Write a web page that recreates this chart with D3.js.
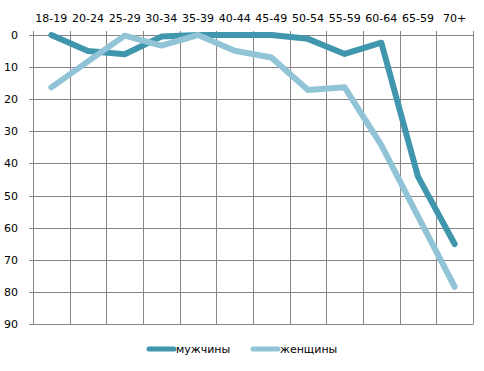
<!DOCTYPE html>
<html>
<head>
<meta charset="utf-8">
<script src="https://cdn.jsdelivr.net/npm/d3@7"></script>
<style>
    body { margin: 0; background: #fff; }
    text { font-family: "DejaVu Sans", Verdana, sans-serif; font-size: 11px; fill: #000; }
</style>
</head>
<body>
<div id="chart"></div>
<script>
var width = 484,
    height = 371;

var ageGroups = ["18-19", "20-24", "25-29", "30-34", "35-39", "40-44", "45-49", "50-54", "55-59", "60-64", "65-59", "70+"];
var menValues = [0, 5, 6, 0.5, 0, 0, 0, 1.2, 5.9, 2.4, 44.1, 65.1];
var womenValues = [16.3, 8.2, 0.2, 3.3, 0, 4.9, 7, 17.1, 16.3, 34.3, 56.5, 78.4];
var yTicks = [0, 10, 20, 30, 40, 50, 60, 70, 80, 90];

var series = [
    {name: "мужчины", values: menValues, color: "#3F96AD"},
    {name: "женщины", values: womenValues, color: "#90C4D6"}
];

var margin = {top: 35, right: 11, bottom: 47, left: 33};

var svg = d3.select("#chart").append("svg")
    .attr("width", width)
    .attr("height", height);

var x = d3.scaleBand()
    .domain(ageGroups)
    .range([margin.left, width - margin.right]);

var y = d3.scaleLinear()
    .domain([0, 90])
    .range([margin.top, height - margin.bottom]);

// horizontal grid + left ticks
svg.append("g")
    .selectAll("line")
    .data(yTicks)
    .enter().append("line")
    .attr("x1", margin.left - 4)
    .attr("x2", width - margin.right)
    .attr("y1", function(d) { return Math.round(y(d)) + 0.5; })
    .attr("y2", function(d) { return Math.round(y(d)) + 0.5; })
    .attr("stroke", "#868686")
    .attr("stroke-width", 1);

// vertical grid (band edges)
var edges = ageGroups.map(function(d) { return x(d); }).concat([width - margin.right]);
svg.append("g")
    .selectAll("line")
    .data(edges)
    .enter().append("line")
    .attr("x1", function(d) { return Math.round(d) + 0.5; })
    .attr("x2", function(d) { return Math.round(d) + 0.5; })
    .attr("y1", margin.top - 4)
    .attr("y2", Math.round(y(90)) + 0.5)
    .attr("stroke", "#868686")
    .attr("stroke-width", 1);

// y labels
svg.append("g")
    .selectAll("text")
    .data(yTicks)
    .enter().append("text")
    .attr("x", 18)
    .attr("y", function(d) { return y(d); })
    .attr("dy", "0.36em")
    .style("text-anchor", "end")
    .text(function(d) { return d; });

// x labels on top
svg.append("g")
    .selectAll("text")
    .data(ageGroups)
    .enter().append("text")
    .attr("x", function(d) { return x(d) + x.bandwidth() / 2; })
    .attr("y", 22)
    .style("text-anchor", "middle")
    .text(function(d) { return d; });

var line = d3.line()
    .x(function(d, i) { return x(ageGroups[i]) + x.bandwidth() / 2; })
    .y(function(d) { return y(d); });

// men first, women drawn on top
svg.selectAll(".series")
    .data(series)
    .enter().append("path")
    .attr("class", "series")
    .attr("d", function(d) { return line(d.values); })
    .attr("fill", "none")
    .attr("stroke", function(d) { return d.color; })
    .attr("stroke-width", 6)
    .attr("stroke-linejoin", "round")
    .attr("stroke-linecap", "round");

// legend
var legendX = [149, 253];
var legend = svg.selectAll(".legend")
    .data(series)
    .enter().append("g")
    .attr("class", "legend")
    .attr("transform", function(d, i) { return "translate(" + legendX[i] + ",349)"; });

legend.append("line")
    .attr("x1", 0)
    .attr("x2", 25)
    .attr("stroke", function(d) { return d.color; })
    .attr("stroke-width", 5)
    .attr("stroke-linecap", "round");

legend.append("text")
    .attr("x", 27)
    .attr("y", 4)
    .text(function(d) { return d.name; });
</script>
</body>
</html>
